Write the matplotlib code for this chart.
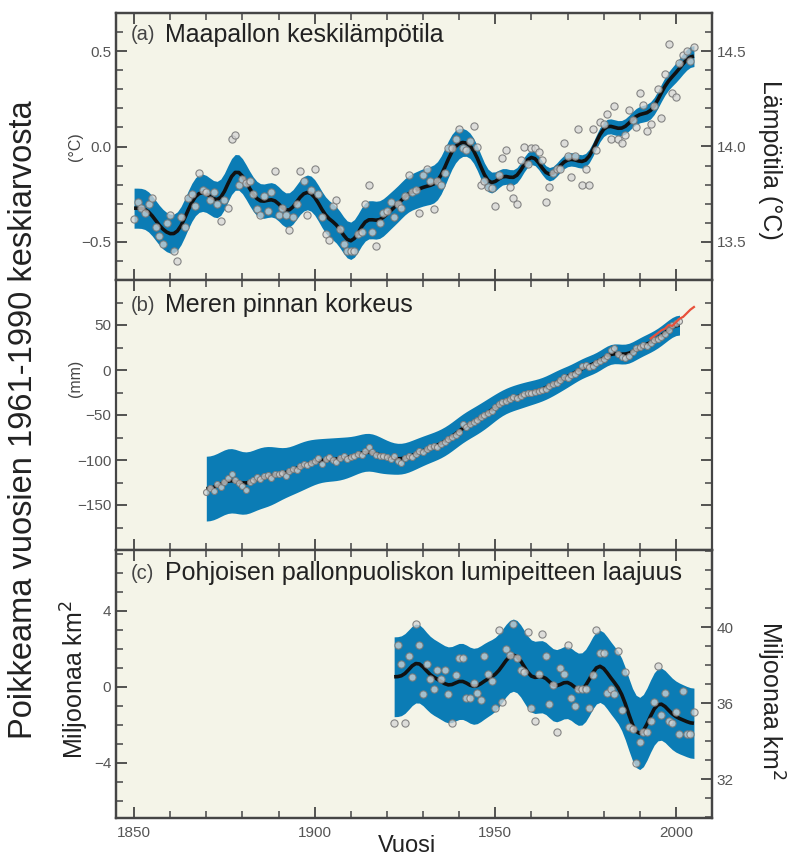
import numpy as np
import matplotlib
matplotlib.use("Agg")
import matplotlib.pyplot as plt
from matplotlib.ticker import MultipleLocator, FixedLocator

plt.rcParams['font.family'] = ['Liberation Sans', 'DejaVu Sans']

# ---------------- data ----------------
temp_years = np.arange(1850, 2006)
temp_anom = [
    -0.38, -0.29, -0.32, -0.35, -0.30, -0.27, -0.42, -0.47, -0.51, -0.40,
    -0.36, -0.55, -0.60, -0.37, -0.42, -0.27, -0.25, -0.31, -0.14, -0.23,
    -0.24, -0.28, -0.24, -0.30, -0.39, -0.28, -0.32, 0.04, 0.06, -0.20,
    -0.17, -0.19, -0.18, -0.25, -0.33, -0.36, -0.26, -0.34, -0.24, -0.13,
    -0.36, -0.32, -0.36, -0.44, -0.37, -0.30, -0.13, -0.18, -0.36, -0.23,
    -0.12, -0.25, -0.37, -0.46, -0.49, -0.31, -0.28, -0.43, -0.51, -0.55,
    -0.55, -0.55, -0.46, -0.45, -0.30, -0.20, -0.45, -0.52, -0.40, -0.35,
    -0.34, -0.29, -0.37, -0.30, -0.32, -0.26, -0.15, -0.24, -0.23, -0.35,
    -0.15, -0.12, -0.18, -0.33, -0.18, -0.20, -0.14, -0.01, -0.01, 0.04,
    0.09, -0.01, -0.02, 0.03, 0.11, 0.00, -0.20, -0.18, -0.21, -0.22,
    -0.31, -0.15, -0.06, -0.02, -0.21, -0.27, -0.30, -0.07, 0.00, -0.09,
    -0.01, -0.01, -0.03, -0.07, -0.29, -0.21, -0.14, -0.12, -0.12, 0.02,
    -0.05, -0.16, -0.05, 0.09, -0.20, -0.12, -0.20, 0.09, -0.02, 0.13,
    0.12, 0.17, 0.04, 0.21, 0.04, 0.02, 0.06, 0.19, 0.14, 0.10,
    0.28, 0.22, 0.08, 0.12, 0.21, 0.30, 0.15, 0.38, 0.54, 0.28,
    0.26, 0.44, 0.48, 0.50, 0.45, 0.52,
]
# uncertainty half-width per decade (1850s ... 2000s)
temp_hw_dec = [0.105, 0.10, 0.095, 0.09, 0.09, 0.095, 0.10, 0.095,
               0.10, 0.065, 0.04, 0.035, 0.035, 0.04, 0.045, 0.055]
temp_offset = 14.0  # absolute temperature of the 1961-1990 mean

sea_years = np.arange(1870, 2002)
sea_level = [
    -136, -131, -134, -127, -130, -124, -120, -116, -122, -126,
    -129, -133, -124, -122, -119, -121, -118, -117, -120, -116,
    -115, -114, -118, -112, -110, -111, -107, -104, -106, -103,
    -101, -98, -104, -99, -97, -100, -102, -98, -96, -99,
    -97, -95, -93, -94, -90, -85, -91, -94, -96, -95,
    -97, -99, -96, -101, -103, -98, -95, -97, -93, -90,
    -91, -88, -86, -84, -86, -82, -80, -77, -74, -72,
    -69, -60, -63, -60, -58, -56, -52, -50, -48, -45,
    -41, -38, -35, -34, -32, -30, -31, -29, -27, -25,
    -26, -24, -23, -22, -21, -18, -15, -14, -11, -8,
    -9, -5, -4, -1, 4, 6, 3, 5, 8, 10,
    12, 16, 22, 25, 18, 14, 13, 16, 20, 24,
    26, 28, 27, 30, 33, 35, 37, 40, 45, 50,
    52, 55,
]
sea_hw_dec = [36, 34, 27, 24, 21, 17, 16, 16, 14, 13, 11, 11, 11, 11]

sat_years = np.arange(1993, 2006)
sat_level = [35, 38, 41, 44, 46, 50, 49, 53, 57, 59, 63, 67, 70]

snow_years = np.arange(1922, 2006)
snow_anom = [
    -1.9, 2.2, 1.2, -1.9, 1.6, 0.5, 3.3, 2.2,
    -0.4, 1.2, 0.4, -0.1, 0.9, 0.4, 0.9, -0.4, -1.9, 0.6,
    1.5, 1.5, -0.6, -0.6, 0.2, -0.3, -0.7, 1.6, 0.7, 0.3,
    -1.1, 3.0, -0.8, 2.0, 1.7, 3.3, 1.5, 0.9, 0.8, 2.9,
    -1.1, -1.8, 0.7, 2.8, 1.6, -0.9, 0.1, -2.4, 1.0, 0.7,
    2.2, -0.6, -1.0, -0.1, -0.1, -0.1, -1.1, 0.6, 3.0, 1.8,
    1.8, -0.3, -0.1, -0.4, 1.9, -1.2, 0.8, -2.1, -2.2, -4.0,
    -2.9, -2.4, -2.4, -1.8, -0.8, 1.1, -1.5, -0.3, -1.8, -1.9,
    -1.3, -2.5, -0.2, -2.5, -2.5, -1.3,
]
snow_hw_dec = [2.1, 2.0, 2.0, 1.9, 1.9, 1.9, 1.9, 1.9, 1.85]
snow_offset = 36.86  # absolute extent of the 1961-1990 mean

# ---------------- helpers ----------------
W = np.array([1, 6, 19, 42, 71, 96, 106, 96, 71, 42, 19, 6, 1], float)
W /= W.sum()


def smooth(v):
    v = np.asarray(v, float)
    p = np.pad(v, 6, mode='reflect')
    return np.convolve(p, W, mode='valid')


def halfwidth(years, dec):
    idx = years // 10 - years[0] // 10
    return smooth(np.asarray(dec, float)[idx])


BLUE = '#0B7CB5'
BG = '#F4F4E8'
SPINE = '#454545'
TICKLAB = '#555555'

fig = plt.figure(figsize=(7.89, 8.59), dpi=100)
L, R = 116 / 789, 712 / 789
edges = [13, 280, 550, 818]
axes = []
for i in range(3):
    y0 = 1 - edges[i + 1] / 859
    h = (edges[i + 1] - edges[i]) / 859
    ax = fig.add_axes([L, y0, R - L, h])
    ax.set_facecolor(BG)
    for s in ax.spines.values():
        s.set_color(SPINE)
        s.set_linewidth(1.6)
    ax.set_xlim(1845, 2010)
    ax.xaxis.set_major_locator(MultipleLocator(50))
    ax.xaxis.set_minor_locator(MultipleLocator(10))
    axes.append(ax)

pt_kw = dict(linestyle='none', marker='o', mfc=(0.84, 0.84, 0.84, 0.75),
             mec=(0.48, 0.48, 0.48, 0.9), mew=0.8)


def draw(ax, years, vals, hw_dec, ms):
    sm = smooth(vals)
    hw = halfwidth(years, hw_dec)
    ax.fill_between(years, sm - hw, sm + hw, color=BLUE, lw=0, zorder=1)
    ax.plot(years, sm, color='#111111', lw=2.6, zorder=2,
            solid_capstyle='butt')
    ax.plot(years, vals, ms=ms, zorder=3, **pt_kw)


# panel a
axa = axes[0]
draw(axa, temp_years, temp_anom, temp_hw_dec, 5.2)
axa.set_ylim(-0.70, 0.70)
axa.yaxis.set_major_locator(MultipleLocator(0.5))
axa.yaxis.set_minor_locator(MultipleLocator(0.1))

# panel b
axb = axes[1]
draw(axb, sea_years, sea_level, sea_hw_dec, 4.3)
axb.plot(sat_years, sat_level, color='#E8503A', lw=1.6, zorder=4)
axb.set_ylim(-200, 100)
axb.yaxis.set_major_locator(FixedLocator([-150, -100, -50, 0, 50]))
axb.yaxis.set_minor_locator(MultipleLocator(25))

# panel c
axc = axes[2]
draw(axc, snow_years, snow_anom, snow_hw_dec, 5.2)
axc.set_ylim(-6.9, 7.2)
axc.yaxis.set_major_locator(MultipleLocator(4))
axc.yaxis.set_minor_locator(MultipleLocator(1))

for i, ax in enumerate(axes):
    ax.tick_params(which='both', direction='in', top=True, bottom=True,
                   left=True, right=(i == 1), colors=SPINE,
                   labelcolor=TICKLAB, labelsize=11)
    ax.tick_params(which='major', length=8, width=1.3)
    ax.tick_params(which='minor', length=5, width=1.1)
    if i < 2:
        ax.tick_params(labelbottom=False)
    else:
        ax.tick_params(axis='x', pad=6)

# right axes
axa2 = axa.twinx()
axa2.set_ylim(axa.get_ylim()[0] + temp_offset, axa.get_ylim()[1] + temp_offset)
axa2.yaxis.set_major_locator(MultipleLocator(0.5))
axa2.yaxis.set_minor_locator(MultipleLocator(0.1))
axc2 = axc.twinx()
axc2.set_ylim(axc.get_ylim()[0] + snow_offset, axc.get_ylim()[1] + snow_offset)
axc2.yaxis.set_major_locator(FixedLocator([32, 36, 40]))
axc2.yaxis.set_minor_locator(MultipleLocator(1))
for ax2 in (axa2, axc2):
    for s in ax2.spines.values():
        s.set_color(SPINE)
        s.set_linewidth(1.6)
    ax2.tick_params(which='both', direction='in', colors=SPINE,
                    labelcolor=TICKLAB, labelsize=11)
    ax2.tick_params(which='major', length=8, width=1.3)
    ax2.tick_params(which='minor', length=5, width=1.1)

# panel titles
titles = [("(a)", "Maapallon keskilämpötila", 0.918),
          ("(b)", "Meren pinnan korkeus", 0.907),
          ("(c)", "Pohjoisen pallonpuoliskon lumipeitteen laajuus", 0.914)]
for ax, (tag, txt, y) in zip(axes, titles):
    ax.text(0.025, y, tag, transform=ax.transAxes, fontsize=14.5,
            color='#444444', va='center', ha='left', zorder=5)
    ax.text(0.083, y, txt, transform=ax.transAxes, fontsize=18,
            color='#222222', va='center', ha='left', zorder=5)

# axis labels
fig.text(75 / 789, 1 - 147 / 859, "(°C)", rotation=90, fontsize=11.5,
         color='#444444', ha='center', va='center')
fig.text(75 / 789, 1 - 378 / 859, "(mm)", rotation=90, fontsize=11.5,
         color='#444444', ha='center', va='center')
fig.text(75 / 789, 1 - 680 / 859, "Miljoonaa km$^2$", rotation=90,
         fontsize=18, color='#222222', ha='center', va='center')
fig.text(24 / 789, 1 - 420 / 859, "Poikkeama vuosien 1961-1990 keskiarvosta",
         rotation=90, fontsize=23.5, color='#222222', ha='center', va='center')
fig.text(770 / 789, 1 - 160 / 859, "Lämpötila (°C)", rotation=270,
         fontsize=18, color='#222222', ha='center', va='center')
fig.text(770 / 789, 1 - 700 / 859, "Miljoonaa km$^2$", rotation=270,
         fontsize=18, color='#222222', ha='center', va='center')
fig.text(407 / 789, 1 - 846 / 859, "Vuosi", fontsize=17, color='#222222',
         ha='center', va='center')

fig.savefig("out.png", dpi=100, facecolor='white')
